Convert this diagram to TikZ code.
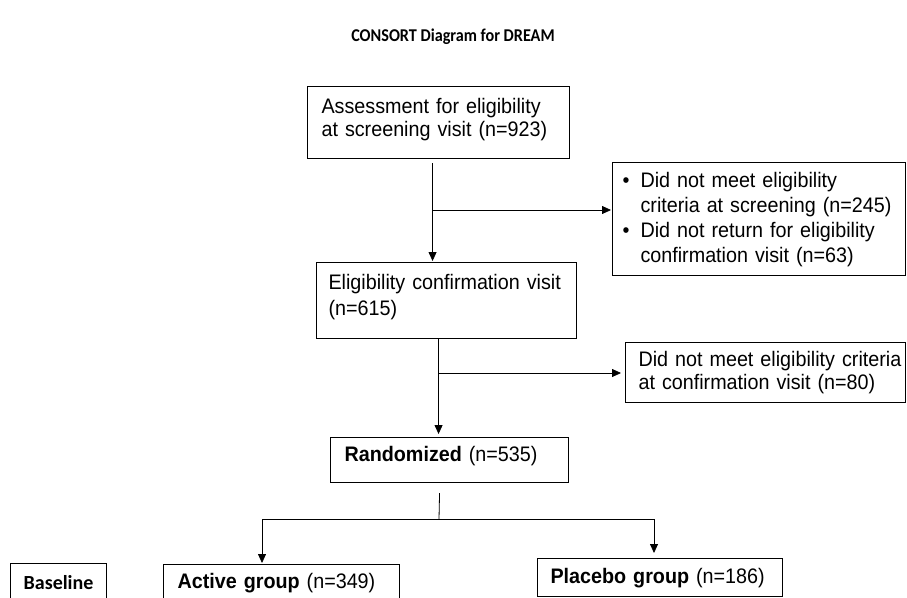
\documentclass[tikz,border=0pt]{standalone}
\usepackage{fontspec}
\setmainfont{Liberation Sans}[FakeStretch=0.94]
\newfontfamily\calibri{Carlito}
\newfontfamily\titlefont{Carlito}[FakeStretch=0.9]
\usetikzlibrary{arrows.meta}

\tikzset{
  flowbox/.style={draw, line width=1.1pt, inner xsep=14pt, inner ysep=0pt,
    align=left, anchor=north west, font=\fontsize{21}{23}\selectfont},
  flowline/.style={line width=0.8pt},
  flowarrow/.style={flowline, -{Triangle[length=9pt,width=8pt]}, shorten >=1pt}
}

\begin{document}
\begin{tikzpicture}[x=1pt,y=-1pt]
    \useasboundingbox (0,0) rectangle (907,597);
    \clip (0,0) rectangle (907,597);

    % Title
    \node (title) at (453,37) {\titlefont\fontsize{18}{21}\selectfont\bfseries CONSORT Diagram for DREAM};

    % Screening and exclusions
    \node[flowbox, text width=234pt, text height=27pt, text depth=45pt] (assess) at (307,86)
        {Assessment for eligibility\\at screening visit (n=923)};
    \node[flowbox, inner xsep=10pt, text width=273pt, text height=25pt, text depth=88pt,
          font=\fontsize{21}{25}\selectfont] (excl1) at (612,162)
        {\makebox[18pt][l]{\textbullet}Did not meet eligibility\\
         \hspace*{18pt}criteria at screening (n=245)\\
         \makebox[18pt][l]{\textbullet}Did not return for eligibility\\
         \hspace*{18pt}confirmation visit (n=63)};

    % Confirmation visit
    \node[flowbox, inner xsep=12pt, text width=236pt, text height=27pt, text depth=49pt,
          font=\fontsize{21}{26}\selectfont] (confirm) at (316,262)
        {Eligibility confirmation visit\\(n=615)};
    \node[flowbox, inner xsep=13pt, text width=254pt, text height=24pt, text depth=36pt] (excl2) at (625,342)
        {\mbox{Did not meet eligibility criteria}\\at confirmation visit (n=80)};

    % Randomisation
    \node[flowbox, text width=210pt, text height=24pt, text depth=21pt] (rand) at (330,437)
        {\textbf{Randomized} (n=535)};

    % Arms
    \node[flowbox, align=center, inner xsep=0pt, minimum width=96pt, text height=26pt, text depth=20pt] (baseline) at (10,563)
        {\calibri\fontsize{20}{22}\selectfont\bfseries Baseline};
    \node[flowbox, text width=208pt, text height=24pt, text depth=20pt] (active) at (163,564)
        {\textbf{Active group} (n=349)};
    \node[flowbox, inner xsep=13pt, text width=219pt, text height=25pt, text depth=13pt] (placebo) at (537,558)
        {\textbf{Placebo group} (n=186)};

    % Connectors
    \coordinate (br1) at (432,210);
    \coordinate (br2) at (438,373);
    \coordinate (split) at (439,519);
    \coordinate (splitL) at (262,519);
    \coordinate (splitR) at (654,519);

    \draw[flowarrow] ([xshift=-6pt,yshift=-4pt]assess.south) -- ([xshift=-6pt]assess.south |- confirm.north);
    \draw[flowarrow] (br1) -- (br1 -| excl1.west);

    \draw[flowarrow, shorten >=3pt] ([xshift=-8pt]confirm.south) -- ([xshift=-8pt]confirm.south |- rand.north);
    \draw[flowarrow, shorten >=4pt] (br2) -- (br2 -| excl2.west);

    \draw[flowline] ([xshift=-10pt,yshift=-10pt]rand.south) -- (split);
    \draw[flowline] (splitL) -- (splitR);
    \draw[flowarrow] (splitL) -- (splitL |- active.north);
    \draw[flowarrow, shorten >=5pt] (splitR) -- (splitR |- placebo.north);
\end{tikzpicture}
\end{document}
